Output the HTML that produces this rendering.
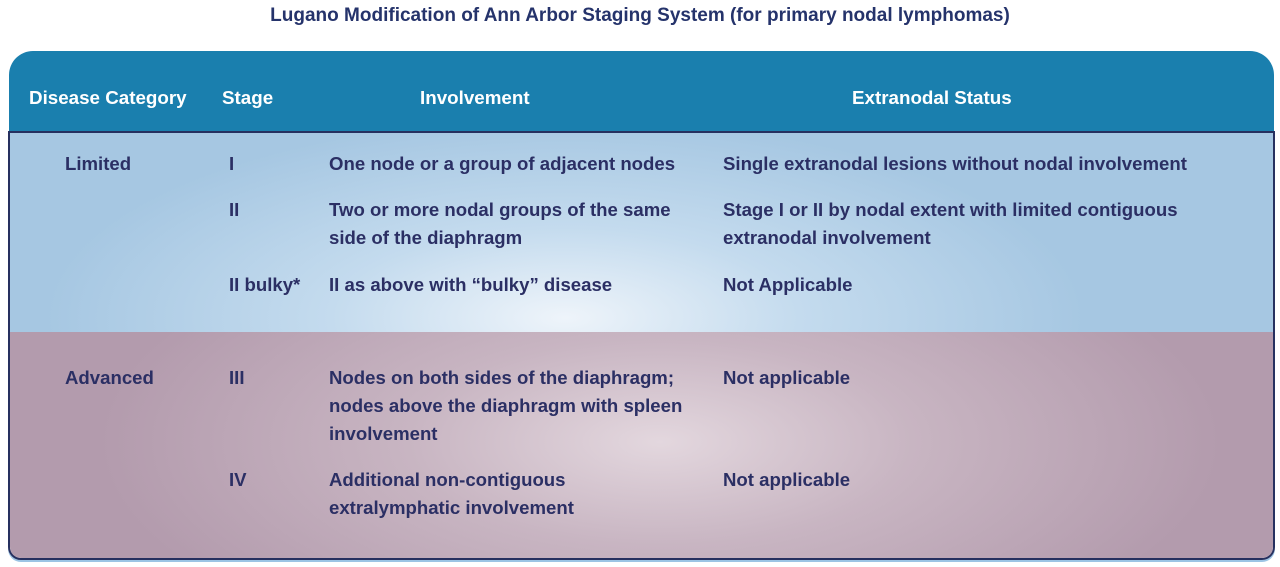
<!DOCTYPE html>
<html><head><style>
body{margin:0;width:1280px;height:567px;background:#fff;font-family:"Liberation Sans",sans-serif;font-weight:bold;color:#2b2f64;position:relative;overflow:hidden}
.t{position:absolute;white-space:nowrap;font-size:18.6px;line-height:28px}
.title{position:absolute;top:5px;left:0;width:1280px;text-align:center;font-size:19px;color:#25336b}
.hdr{position:absolute;left:9px;top:51px;width:1265px;height:82px;background:#1a7fae;border-radius:24px 24px 0 0}
.hdr .t{color:#fff;top:33px;font-size:18.8px;line-height:28px}
.body{position:absolute;left:8px;top:131px;width:1263px;height:425px;border:2px solid #26305f;border-radius:0 0 13px 13px;overflow:hidden;box-shadow:0 2px 0 #9cc4e4}
.lim{position:absolute;left:0;top:0;width:100%;height:199px;background:radial-gradient(ellipse 520px 200px at 555px 185px,#eef4fa 0%,#c4dbee 45%,#a6c7e2 100%)}
.adv{position:absolute;left:0;top:199px;width:100%;height:226px;background:radial-gradient(ellipse 560px 230px at 650px 110px,#e3d7de 0%,#c8b5c2 45%,#b39bad 100%)}
</style></head><body>
<div class="title">Lugano Modification of Ann Arbor Staging System (for primary nodal lymphomas)</div>
<div class="hdr">
<div class="t" style="left:20px">Disease Category</div>
<div class="t" style="left:213px">Stage</div>
<div class="t" style="left:411px">Involvement</div>
<div class="t" style="left:843px">Extranodal Status</div>
</div>
<div class="body"><div class="lim"></div><div class="adv"></div></div>
<div class="t" style="left:65px;top:150px">Limited</div>
<div class="t" style="left:229px;top:150px">I</div>
<div class="t" style="left:329px;top:150px">One node or a group of adjacent nodes</div>
<div class="t" style="left:723px;top:150px">Single extranodal lesions without nodal involvement</div>
<div class="t" style="left:229px;top:196px">II</div>
<div class="t" style="left:329px;top:196px">Two or more nodal groups of the same<br>side of the diaphragm</div>
<div class="t" style="left:723px;top:196px">Stage I or II by nodal extent with limited contiguous<br>extranodal involvement</div>
<div class="t" style="left:229px;top:271px">II bulky*</div>
<div class="t" style="left:329px;top:271px">II as above with “bulky” disease</div>
<div class="t" style="left:723px;top:271px">Not Applicable</div>
<div class="t" style="left:65px;top:364px">Advanced</div>
<div class="t" style="left:229px;top:364px">III</div>
<div class="t" style="left:329px;top:364px">Nodes on both sides of the diaphragm;<br>nodes above the diaphragm with spleen<br>involvement</div>
<div class="t" style="left:723px;top:364px">Not applicable</div>
<div class="t" style="left:229px;top:466px">IV</div>
<div class="t" style="left:329px;top:466px">Additional non-contiguous<br>extralymphatic involvement</div>
<div class="t" style="left:723px;top:466px">Not applicable</div>
</body></html>
